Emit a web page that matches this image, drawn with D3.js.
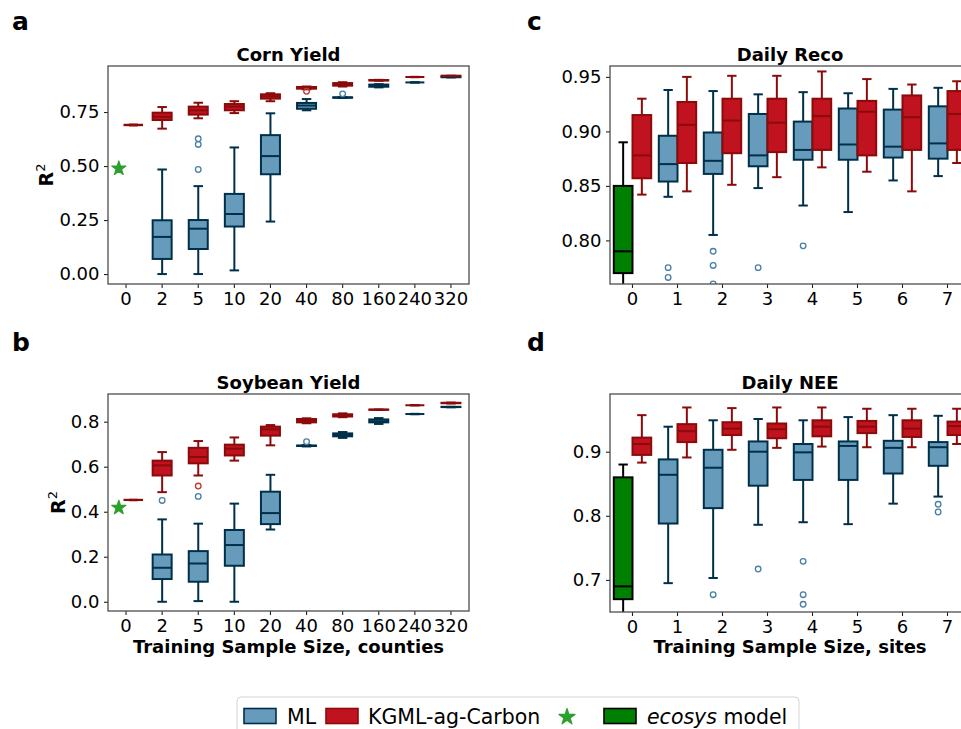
<!DOCTYPE html>
<html>
<head>
<meta charset="utf-8">
<script src="https://cdn.jsdelivr.net/npm/d3@7"></script>
<style>
body { margin: 0; background: #fff; }
svg { display: block; font-family: "DejaVu Sans", sans-serif; }
</style>
</head>
<body>
<svg id="fig" width="961" height="729"></svg>
<script>
// categories
const countyCats = ["0", "2", "5", "10", "20", "40", "80", "160", "240", "320"];
const siteCats = ["0", "1", "2", "3", "4", "5", "6", "7"];

// box stats per category: [lower whisker, q1, median, q3, upper whisker]
const cornML = [null,
  [0.000, 0.070, 0.172, 0.249, 0.484],
  [0.000, 0.116, 0.210, 0.250, 0.407],
  [0.017, 0.220, 0.278, 0.371, 0.586],
  [0.243, 0.462, 0.546, 0.643, 0.744],
  [0.758, 0.765, 0.780, 0.792, 0.810],
  [0.815, 0.816, 0.817, 0.818, 0.819],
  [0.864, 0.867, 0.872, 0.877, 0.879],
  [0.886, 0.887, 0.887, 0.887, 0.888],
  [0.910, 0.911, 0.912, 0.912, 0.913]];
const cornMLOut = [[], [], [0.626, 0.600, 0.484], [], [], [], [0.834], [], [], []];
const cornKGML = [
  [0.688, 0.689, 0.690, 0.691, 0.692],
  [0.673, 0.713, 0.728, 0.747, 0.773],
  [0.721, 0.738, 0.758, 0.775, 0.793],
  [0.745, 0.758, 0.775, 0.787, 0.800],
  [0.800, 0.812, 0.823, 0.832, 0.837],
  [0.855, 0.858, 0.862, 0.866, 0.868],
  [0.868, 0.872, 0.878, 0.884, 0.888],
  [0.895, 0.896, 0.897, 0.898, 0.899],
  [0.911, 0.912, 0.912, 0.912, 0.913],
  [0.916, 0.917, 0.917, 0.918, 0.918]];
const cornKGMLOut = [[], [], [], [], [], [0.846], [], [], [], []];
const cornEcosys = 0.489;

const soyML = [null,
  [0.000, 0.101, 0.151, 0.210, 0.366],
  [0.003, 0.089, 0.170, 0.225, 0.347],
  [0.000, 0.160, 0.252, 0.319, 0.436],
  [0.321, 0.345, 0.394, 0.489, 0.564],
  [0.690, 0.692, 0.693, 0.694, 0.696],
  [0.728, 0.735, 0.741, 0.748, 0.754],
  [0.790, 0.797, 0.802, 0.810, 0.816],
  [0.833, 0.834, 0.834, 0.834, 0.835],
  [0.864, 0.865, 0.865, 0.866, 0.866]];
const soyMLOut = [[], [0.450], [0.468], [], [], [0.711], [], [], [], []];
const soyKGML = [
  [0.451, 0.452, 0.452, 0.453, 0.453],
  [0.487, 0.561, 0.606, 0.627, 0.665],
  [0.561, 0.615, 0.643, 0.684, 0.714],
  [0.627, 0.650, 0.680, 0.698, 0.730],
  [0.695, 0.738, 0.766, 0.778, 0.785],
  [0.793, 0.797, 0.805, 0.812, 0.815],
  [0.820, 0.823, 0.828, 0.833, 0.837],
  [0.852, 0.853, 0.853, 0.854, 0.854],
  [0.872, 0.873, 0.873, 0.873, 0.874],
  [0.881, 0.882, 0.883, 0.884, 0.885]];
const soyKGMLOut = [[], [], [0.514], [], [], [], [], [], [], []];
const soyEcosys = 0.418;

const recoML = [null,
  [0.840, 0.854, 0.870, 0.896, 0.938],
  [0.805, 0.861, 0.873, 0.899, 0.937],
  [0.848, 0.868, 0.878, 0.916, 0.934],
  [0.832, 0.874, 0.883, 0.909, 0.936],
  [0.826, 0.874, 0.888, 0.921, 0.935],
  [0.855, 0.876, 0.886, 0.920, 0.939],
  [0.859, 0.875, 0.889, 0.923, 0.940]];
const recoMLOut = [[], [0.775, 0.766], [0.790, 0.777, 0.760], [0.775], [0.795], [], [], []];
const recoKGML = [
  [0.842, 0.857, 0.878, 0.915, 0.930],
  [0.845, 0.871, 0.906, 0.927, 0.950],
  [0.851, 0.880, 0.910, 0.930, 0.951],
  [0.858, 0.881, 0.908, 0.930, 0.951],
  [0.867, 0.883, 0.914, 0.930, 0.955],
  [0.863, 0.878, 0.918, 0.928, 0.948],
  [0.845, 0.883, 0.913, 0.933, 0.943],
  [0.871, 0.883, 0.916, 0.937, 0.946]];
const recoEcosys = [0.730, 0.770, 0.790, 0.850, 0.890];

const neeML = [null,
  [0.695, 0.788, 0.864, 0.888, 0.939],
  [0.703, 0.812, 0.875, 0.903, 0.949],
  [0.786, 0.847, 0.900, 0.916, 0.951],
  [0.790, 0.856, 0.899, 0.912, 0.949],
  [0.787, 0.856, 0.909, 0.916, 0.954],
  [0.819, 0.866, 0.906, 0.917, 0.957],
  [0.830, 0.878, 0.907, 0.915, 0.956]];
const neeMLOut = [[], [], [0.677], [0.717], [0.729, 0.677, 0.662], [], [], [0.818, 0.806]];
const neeKGML = [
  [0.883, 0.895, 0.912, 0.922, 0.957],
  [0.891, 0.915, 0.932, 0.943, 0.969],
  [0.903, 0.926, 0.936, 0.946, 0.968],
  [0.906, 0.921, 0.935, 0.944, 0.969],
  [0.908, 0.924, 0.939, 0.949, 0.969],
  [0.907, 0.929, 0.939, 0.948, 0.967],
  [0.907, 0.923, 0.936, 0.949, 0.967],
  [0.912, 0.926, 0.940, 0.947, 0.967]];
const neeEcosys = [0.630, 0.670, 0.690, 0.860, 0.880];

// tick labels
const cornTicks = [0, 0.25, 0.5, 0.75];
const soyTicks = [0, 0.2, 0.4, 0.6, 0.8];
const recoTicks = [0.80, 0.85, 0.90, 0.95];
const neeTicks = [0.7, 0.8, 0.9];

// colours
const mlFill = "#669bbc", mlEdge = "#003049", mlFlier = "#4a7fa3";
const kgFill = "#c1121f", kgEdge = "#8b0a0a", kgFlier = "#c0392b";
const ecoFill = "#008000", ecoEdge = "#000000";
const starColor = "#2ca02c";

const svg = d3.select("#fig");
let clipCount = 0;

// one box with whiskers, caps, median and fliers
function draw_box(g, y, cx, w, stats, fill, edge, fliers, flierColor) {
    if (!stats) return;
    const [lo, q1, med, q3, hi] = stats;
    const box = g.append("g");
    box.append("line")
        .attr("x1", cx).attr("x2", cx)
        .attr("y1", y(lo)).attr("y2", y(q1))
        .attr("stroke", edge).attr("stroke-width", 2);
    box.append("line")
        .attr("x1", cx).attr("x2", cx)
        .attr("y1", y(q3)).attr("y2", y(hi))
        .attr("stroke", edge).attr("stroke-width", 2);
    [lo, hi].forEach(v => {
        box.append("line")
            .attr("x1", cx - w / 4).attr("x2", cx + w / 4)
            .attr("y1", y(v)).attr("y2", y(v))
            .attr("stroke", edge).attr("stroke-width", 2);
    });
    box.append("rect")
        .attr("x", cx - w / 2)
        .attr("y", y(q3))
        .attr("width", w)
        .attr("height", Math.max(0, y(q1) - y(q3)))
        .attr("fill", fill)
        .attr("stroke", edge)
        .attr("stroke-width", 2);
    box.append("line")
        .attr("x1", cx - w / 2).attr("x2", cx + w / 2)
        .attr("y1", y(med)).attr("y2", y(med))
        .attr("stroke", edge).attr("stroke-width", 2);
    (fliers || []).forEach(v => {
        box.append("circle")
            .attr("cx", cx).attr("cy", y(v)).attr("r", 2.8)
            .attr("fill", "none")
            .attr("stroke", flierColor)
            .attr("stroke-width", 1.3);
    });
}

// axes frame, ticks, title
function create_panel(opt) {
    const g = svg.append("g");
    const x = d3.scaleBand().domain(opt.cats).range([opt.left, opt.right]);
    const y = d3.scaleLinear().domain(opt.ydomain).range([opt.bottom, opt.top]);

    const id = "clip" + (clipCount++);
    svg.append("clipPath").attr("id", id)
        .append("rect")
        .attr("x", opt.left).attr("y", opt.top)
        .attr("width", opt.right - opt.left)
        .attr("height", opt.bottom - opt.top);

    const plot = g.append("g").attr("clip-path", `url(#${id})`);

    const yAxis = g.append("g")
        .attr("transform", `translate(${opt.left},0)`)
        .call(d3.axisLeft(y).tickValues(opt.ticks).tickFormat(d3.format(opt.fmt))
            .tickSize(4).tickPadding(4.5));
    const xAxis = g.append("g")
        .attr("transform", `translate(0,${opt.bottom})`)
        .call(d3.axisBottom(x).tickSize(4).tickPadding(4.2));
    [xAxis, yAxis].forEach(a => {
        a.select(".domain").remove();
        a.attr("font-size", 18).attr("font-family", "DejaVu Sans").attr("color", "#222");
        a.selectAll("text").attr("fill", "#000");
        a.selectAll("line").attr("stroke-width", 1.1);
    });

    g.append("rect")
        .attr("x", opt.left).attr("y", opt.top)
        .attr("width", opt.right - opt.left)
        .attr("height", opt.bottom - opt.top)
        .attr("fill", "none")
        .attr("stroke", "#4d4d4d")
        .attr("stroke-width", 1.3);

    g.append("text")
        .attr("x", (opt.left + opt.right) / 2)
        .attr("y", opt.top - 5)
        .attr("text-anchor", "middle")
        .attr("font-size", 18)
        .attr("font-weight", "bold")
        .text(opt.title);

    return {plot: plot, x: x, y: y, g: g};
}

// county panels (a, b): ML and KGML overlap, star at 0
function county_panel(opt, ml, mlOut, kg, kgOut, eco) {
    const p = create_panel(opt);
    const bw = p.x.bandwidth();
    const w = 19;
    opt.cats.forEach((c, i) => {
        const cx = p.x(c) + bw / 2;
        draw_box(p.plot, p.y, cx, w, ml[i], mlFill, mlEdge, mlOut[i], mlFlier);
    });
    opt.cats.forEach((c, i) => {
        const cx = p.x(c) + bw / 2 + (i === 0 ? 0.2 * bw : 0);
        draw_box(p.plot, p.y, cx, i === 0 ? 17.5 : w, kg[i], kgFill, kgEdge, kgOut[i], kgFlier);
    });
    p.plot.append("path")
        .attr("d", d3.symbol(d3.symbolStar, 62)())
        .attr("transform", `translate(${p.x("0") + bw / 2 - 0.2 * bw},${p.y(eco)})`)
        .attr("fill", starColor)
        .attr("stroke", starColor)
        .attr("stroke-width", 1.2)
        .attr("stroke-linejoin", "round");

    // y label R^2
    const lab = p.g.append("text")
        .attr("transform", `translate(${opt.ylabX},${(opt.top + opt.bottom) / 2}) rotate(-90)`)
        .attr("text-anchor", "middle")
        .attr("font-size", 19)
        .attr("font-weight", "bold");
    lab.append("tspan").text("R");
    lab.append("tspan").attr("dy", -8).attr("font-size", 13).attr("font-weight", "normal").text("2");
    return p;
}

// site panels (c, d): ML left, KGML right of tick, ecosys box at 0
function site_panel(opt, ml, mlOut, kg, eco) {
    const p = create_panel(opt);
    const bw = p.x.bandwidth();
    const w = 18.7;
    opt.cats.forEach((c, i) => {
        const cx = p.x(c) + bw / 2;
        if (i === 0) {
            draw_box(p.plot, p.y, cx - w / 2, w, eco, ecoFill, ecoEdge, [], ecoEdge);
        }
        draw_box(p.plot, p.y, cx - w / 2, w, ml[i], mlFill, mlEdge, mlOut[i], mlFlier);
        draw_box(p.plot, p.y, cx + w / 2, w, kg[i], kgFill, kgEdge, [], kgFlier);
    });
    return p;
}

county_panel({cats: countyCats, left: 108, right: 469, top: 66, bottom: 284,
    ydomain: [-0.046, 0.963], ticks: cornTicks, fmt: ".2f", title: "Corn Yield", ylabX: 53},
    cornML, cornMLOut, cornKGML, cornKGMLOut, cornEcosys);

const pb = county_panel({cats: countyCats, left: 108, right: 469, top: 394, bottom: 611,
    ydomain: [-0.041, 0.923], ticks: soyTicks, fmt: ".1f", title: "Soybean Yield", ylabX: 65},
    soyML, soyMLOut, soyKGML, soyKGMLOut, soyEcosys);

site_panel({cats: siteCats, left: 610, right: 970, top: 66, bottom: 284,
    ydomain: [0.760, 0.960], ticks: recoTicks, fmt: ".2f", title: "Daily Reco"},
    recoML, recoMLOut, recoKGML, recoEcosys);

const pd = site_panel({cats: siteCats, left: 610, right: 970, top: 394, bottom: 612,
    ydomain: [0.650, 0.990], ticks: neeTicks, fmt: ".1f", title: "Daily NEE"},
    neeML, neeMLOut, neeKGML, neeEcosys);

// x axis labels
svg.append("text")
    .attr("x", 288.5).attr("y", 653)
    .attr("text-anchor", "middle")
    .attr("font-size", 18).attr("font-weight", "bold")
    .text("Training Sample Size, counties");
svg.append("text")
    .attr("x", 790).attr("y", 653)
    .attr("text-anchor", "middle")
    .attr("font-size", 18).attr("font-weight", "bold")
    .text("Training Sample Size, sites");

// panel letters
[["a", 12, 30], ["c", 527, 30], ["b", 12, 351], ["d", 527, 351]].forEach(d => {
    svg.append("text")
        .attr("x", d[1]).attr("y", d[2])
        .attr("font-size", 25).attr("font-weight", "bold")
        .text(d[0]);
});

// legend
const legend = svg.append("g");
legend.append("rect")
    .attr("x", 237).attr("y", 697)
    .attr("width", 562).attr("height", 50)
    .attr("rx", 4)
    .attr("fill", "#fff")
    .attr("stroke", "#d3d3d3")
    .attr("stroke-width", 1);
const patch = (x, fill, edge) => legend.append("rect")
    .attr("x", x).attr("y", 708.5).attr("width", 32).attr("height", 15)
    .attr("fill", fill).attr("stroke", edge).attr("stroke-width", 1.6);
const label = (x) => legend.append("text")
    .attr("x", x).attr("y", 723.5).attr("font-size", 20.5);
patch(244, mlFill, mlEdge);
label(287).text("ML");
patch(326, kgFill, kgEdge);
label(368).text("KGML-ag-Carbon");
legend.append("path")
    .attr("d", d3.symbol(d3.symbolStar, 80)())
    .attr("transform", "translate(567,717)")
    .attr("fill", starColor)
    .attr("stroke", starColor)
    .attr("stroke-width", 1.2)
    .attr("stroke-linejoin", "round");
patch(604, ecoFill, ecoEdge);
const eco = label(647);
eco.append("tspan").attr("font-style", "italic").text("ecosys");
eco.append("tspan").text(" model");
</script>
</body>
</html>
